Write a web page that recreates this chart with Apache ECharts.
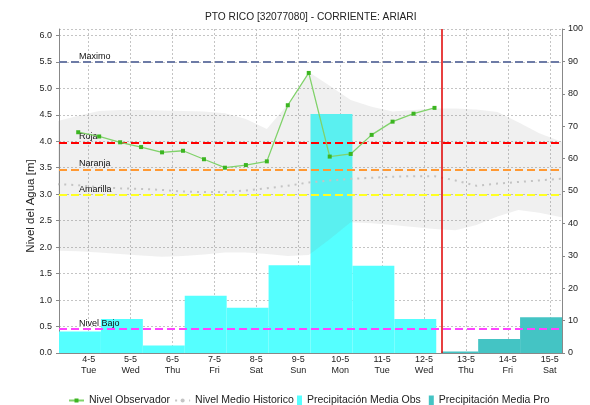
<!DOCTYPE html>
<html><head><meta charset="utf-8">
<script src="https://cdn.jsdelivr.net/npm/echarts@6/dist/echarts.min.js"></script>
<style>html,body{margin:0;padding:0;background:#fff}#c{width:590px;height:405px}</style>
</head><body><div id="c"></div>
<script>
const chartTitle = 'PTO RICO [32077080] - CORRIENTE: ARIARI';
const dayLabels = ['4-5','5-5','6-5','7-5','8-5','9-5','10-5','11-5','12-5','13-5','14-5','15-5'];
const weekdayLabels = ['Tue','Wed','Thu','Fri','Sat','Sun','Mon','Tue','Wed','Thu','Fri','Sat'];
const firstLabelDay = '2021-05-04 00:00';
const xMin = '2021-05-03 07:00';
const xMax = '2021-05-15 07:00';
const nowTime = '2021-05-12 10:00';

// observed water level (m), readings 06:00 / 18:00
const obsTimes = ['2021-05-03 18:00','2021-05-04 06:00','2021-05-04 18:00','2021-05-05 06:00','2021-05-05 18:00',
  '2021-05-06 06:00','2021-05-06 18:00','2021-05-07 06:00','2021-05-07 18:00','2021-05-08 06:00','2021-05-08 18:00',
  '2021-05-09 06:00','2021-05-09 18:00','2021-05-10 06:00','2021-05-10 18:00','2021-05-11 06:00','2021-05-11 18:00',
  '2021-05-12 06:00'];
const obsLevel = [4.17,4.09,3.98,3.89,3.79,3.82,3.66,3.50,3.55,3.62,4.68,5.29,3.71,3.76,4.12,4.37,4.52,4.63];

// historic envelope and mean (m)
const histTimes = ['2021-05-03 06:00','2021-05-03 18:00','2021-05-04 06:00','2021-05-04 18:00','2021-05-05 06:00',
  '2021-05-05 18:00','2021-05-06 06:00','2021-05-06 18:00','2021-05-07 06:00','2021-05-07 18:00','2021-05-08 06:00',
  '2021-05-08 18:00','2021-05-09 06:00','2021-05-09 18:00','2021-05-10 06:00','2021-05-10 18:00','2021-05-11 06:00',
  '2021-05-11 18:00','2021-05-12 06:00','2021-05-12 18:00','2021-05-13 06:00','2021-05-13 18:00','2021-05-14 06:00',
  '2021-05-14 18:00','2021-05-15 06:00','2021-05-15 18:00'];
const histUpper = [4.38,4.48,4.57,4.59,4.59,4.58,4.57,4.56,4.53,4.42,4.23,4.70,5.31,5.05,4.78,4.65,4.56,4.59,4.62,4.62,4.60,4.55,4.36,4.15,4.00,3.90];
const histLower = [1.93,1.92,1.90,1.87,1.84,1.82,1.83,1.86,1.90,1.90,1.87,1.83,1.85,2.15,2.47,2.45,2.42,2.38,2.34,2.32,2.42,2.58,2.70,2.65,2.57,2.50];
const histMean  = [3.19,3.17,3.13,3.11,3.10,3.08,3.05,3.04,3.04,3.07,3.11,3.16,3.22,3.26,3.29,3.31,3.33,3.34,3.34,3.26,3.16,3.20,3.23,3.26,3.29,3.30];

// precipitation (mm), daily 07:00-07:00
const precipObsStart = ['2021-05-03 07:00','2021-05-04 07:00','2021-05-05 07:00','2021-05-06 07:00','2021-05-07 07:00',
  '2021-05-08 07:00','2021-05-09 07:00','2021-05-10 07:00','2021-05-11 07:00'];
const precipObsEnd = ['2021-05-04 07:00','2021-05-05 07:00','2021-05-06 07:00','2021-05-07 07:00','2021-05-08 07:00',
  '2021-05-09 07:00','2021-05-10 07:00','2021-05-11 07:00','2021-05-12 07:00'];
const precipObs = [6.6,10.5,2.3,17.7,14.0,27.1,73.8,26.9,10.5];
const precipProStart = ['2021-05-12 10:00','2021-05-13 07:00','2021-05-14 07:00'];
const precipProEnd = ['2021-05-13 07:00','2021-05-14 07:00','2021-05-15 07:00'];
const precipPro = [0.5,4.3,11.0];

const thresholdNames = ['Maximo','Roja','Naranja','Amarilla','Nivel Bajo'];
const thresholdLevels = [5.5,3.98,3.47,2.98,0.46];
const thresholdColors = ['#6d7ba6','#ff0000','#ff9933','#ffff22','#ff44ff'];

const FONT = '"Liberation Sans", Arial, sans-serif';
function ts(s){const [d,t]=s.split(' ');const [Y,M,D]=d.split('-').map(Number);const [h,m]=t.split(':').map(Number);return new Date(Y,M-1,D,h,m).getTime();}
const DAY = 86400000;
const label0 = ts(firstLabelDay);

function barRender(color){
  return function(params, api){
    const s = api.coord([api.value(0), 0]);
    const e = api.coord([api.value(1), api.value(2)]);
    return {type:'rect', shape:{x:s[0], y:e[1], width:e[0]-s[0], height:s[1]-e[1]}, style:{fill:color}};
  };
}
const barDims = [{name:'start',type:'time'},{name:'end',type:'time'},{name:'mm',type:'float'}];

const chart = echarts.init(document.getElementById('c'), null, {renderer:'canvas'});
const grid = {left:59, right:28, top:29, bottom:52};
const splitStyle = {color:'#c4c4c4', type:[2,2], width:1};

const option = {
  animation:false,
  backgroundColor:'#fff',
  title:{text:chartTitle, left:200, top:7, textStyle:{fontSize:10.2, fontWeight:'normal', color:'#222', fontFamily:FONT}},
  legend:[
    {data:['Nivel Observador','Nivel Medio Historico'], left:68, top:395, padding:0, itemWidth:15, itemHeight:5, itemGap:4,
     textStyle:{fontSize:10.5, color:'#222', fontFamily:FONT}},
    {data:[{name:'Precipitación Media Obs', icon:'rect', itemStyle:{color:'#55ffff'}},
           {name:'Precipitación Media Pro', icon:'rect', itemStyle:{color:'#44c4c4'}}],
     left:297, top:395, padding:0, itemWidth:5, itemHeight:10, itemGap:8,
     textStyle:{fontSize:10.5, color:'#222', fontFamily:FONT}}
  ],
  grid:grid,
  xAxis:[
    {type:'time', min:ts(xMin), max:ts(xMax), minInterval:DAY, maxInterval:DAY, splitNumber:12,
     axisLine:{show:true, lineStyle:{color:'#555', type:[1,1], width:1}},
     axisTick:{show:false},
     axisLabel:{interval:0, margin:1, lineHeight:11, fontSize:9, color:'#222', fontFamily:FONT, hideOverlap:false,
       showMinLabel:true, showMaxLabel:true,
       formatter:function(v){const d=new Date(v); if(d.getHours()!==0||d.getMinutes()!==0) return '';
         const i=Math.round((v-label0)/DAY); if(i<0||i>=dayLabels.length) return ''; return dayLabels[i]+'\n'+weekdayLabels[i];}},
     splitLine:{show:true, lineStyle:splitStyle}},
    {type:'time', position:'top', min:ts(xMin), max:ts(xMax),
     axisLine:{show:true, lineStyle:{color:'#888'}}, axisTick:{show:false}, axisLabel:{show:false}, splitLine:{show:false}}
  ],
  yAxis:[
    {type:'value', min:0, max:6.12, interval:0.5, name:'Nivel del Agua [m]', nameLocation:'middle', nameGap:22,
     nameMoveOverlap:false,
     nameTextStyle:{fontSize:11.5, color:'#222', fontFamily:FONT, padding:[0,30,0,0]},
     axisLine:{show:true, lineStyle:{color:'#888'}}, axisTick:{show:true, length:3, lineStyle:{color:'#888'}},
     axisLabel:{margin:7, fontSize:9, color:'#222', fontFamily:FONT, showMaxLabel:false,
       formatter:function(v){const k=v/0.5; return Math.abs(k-Math.round(k))<1e-6 ? v.toFixed(1) : '';}},
     splitLine:{show:true, lineStyle:splitStyle}},
    {type:'value', min:0, max:100, interval:10, position:'right',
     axisLine:{show:true, lineStyle:{color:'#888'}}, axisTick:{show:true, length:3, lineStyle:{color:'#888'}},
     axisLabel:{margin:6, fontSize:9, color:'#222', fontFamily:FONT},
     splitLine:{show:false}}
  ],
  series:[
    {name:'Precipitación Media Obs', type:'custom', coordinateSystem:'cartesian2d', xAxisIndex:0, yAxisIndex:1, z:1,
     dimensions:barDims, encode:{x:[0,1], y:2}, itemStyle:{color:'#55ffff'}, renderItem:barRender('#55ffff'), clip:true,
     data:precipObs.map((v,i)=>[ts(precipObsStart[i]), ts(precipObsEnd[i]), v])},
    {name:'Precipitación Media Pro', type:'custom', coordinateSystem:'cartesian2d', xAxisIndex:0, yAxisIndex:1, z:1,
     dimensions:barDims, encode:{x:[0,1], y:2}, itemStyle:{color:'#44c4c4'}, renderItem:barRender('#44c4c4'), clip:true,
     data:precipPro.map((v,i)=>[ts(precipProStart[i]), ts(precipProEnd[i]), v])},
    {name:'histLow', type:'line', stack:'hist', symbol:'none', silent:true, z:2, lineStyle:{opacity:0},
     data:histTimes.map((t,i)=>[ts(t), histLower[i]])},
    {name:'histRange', type:'line', stack:'hist', symbol:'none', silent:true, z:2, lineStyle:{opacity:0},
     areaStyle:{color:'rgba(128,128,128,0.12)', opacity:1},
     data:histTimes.map((t,i)=>[ts(t), +(histUpper[i]-histLower[i]).toFixed(3)])},
    {name:'Nivel Medio Historico', type:'line', symbol:'none', z:3,
     lineStyle:{color:'#c4c4c4', width:2, type:[2,5]}, itemStyle:{color:'#c4c4c4'},
     data:histTimes.map((t,i)=>[ts(t), histMean[i]])},
    {name:'Nivel Observador', type:'line', symbol:'rect', symbolSize:4, z:5,
     lineStyle:{color:'#80d26a', width:1.3}, itemStyle:{color:'#3cb521'},
     data:obsTimes.map((t,i)=>[ts(t), obsLevel[i]]),
     markLine:{silent:true, symbol:['none','none'], animation:false,
       data:thresholdNames.map((n,i)=>({name:n, yAxis:thresholdLevels[i],
         lineStyle:{color:thresholdColors[i], type:[8,4], width:2},
         label:{show:true, formatter:'{b}', position:'insideStartTop', distance:[20,1], fontSize:9, color:'#111', fontFamily:FONT}}))
         .concat([{name:'now', xAxis:ts(nowTime), lineStyle:{color:'#e00000', type:'solid', width:1.5}, label:{show:false}}])
     }}
  ]
};
chart.setOption(option);
</script></body></html>
